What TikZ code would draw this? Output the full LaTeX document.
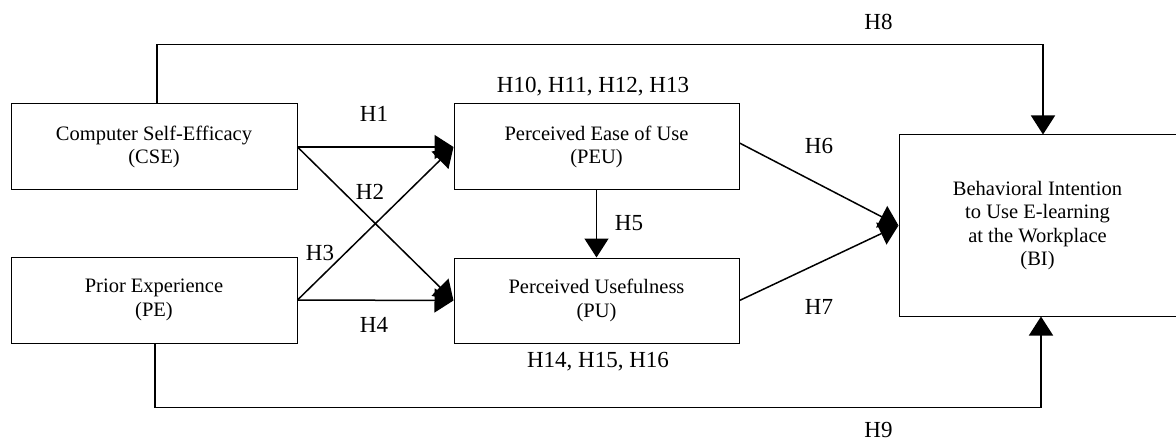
\documentclass[tikz,border=0pt]{standalone}
\usepackage{fontspec}
\setmainfont{Liberation Serif}
\usetikzlibrary{arrows.meta,calc}
\begin{document}
\begin{tikzpicture}[x=1pt,y=-1pt,
  box/.style={draw,line width=1pt,align=center,inner sep=0pt,
    font=\fontsize{20.5}{23.5}\selectfont},
  lbl/.style={inner sep=0pt,font=\fontsize{23}{26}\selectfont},
  arr/.style={line width=1.5pt,-{Triangle[length=19pt,width=24pt]}}]
\useasboundingbox (0,0) rectangle (1176,441);
\node[box,minimum width=286pt,minimum height=86pt] (CSE) at (154,147) {Computer Self-Efficacy\\(CSE)};
\node[box,minimum width=286pt,minimum height=86pt] (PE) at (154,300) {Prior Experience\\(PE)};
\node[box,minimum width=285pt,minimum height=86pt] (PEU) at (596.5,147) {Perceived Ease of Use\\(PEU)};
\node[box,minimum width=285pt,minimum height=85pt] (PU) at (596.5,300.5) {Perceived Usefulness\\(PU)};
\node[box,minimum width=277pt,minimum height=181pt] (BI) at (1037.5,225.5) {Behavioral Intention\\to Use E-learning\\at the Workplace\\(BI)};
\draw[arr] (CSE.east) -- (PEU.west);
\draw[arr] (CSE.east) -- (PU.west);
\draw[arr] (PE.east) -- (PEU.west);
\draw[arr] (PE.east) -- (PU.west);
\draw[arr] (PEU.south) -- (PU.north);
\draw[arr] ([yshift=4pt]PEU.east) -- (BI.west);
\draw[arr] (PU.east) -- (BI.west);
\draw[arr] ([xshift=3pt]CSE.north) -- ++(0,-59) -| ([xshift=5.5pt]BI.north);
\draw[arr] ([xshift=1pt]PE.south) -- ++(0,64) -| ([xshift=3.5pt]BI.south);
\node[lbl] (h1) at (374,114) {H1};
\node[lbl] (h2) at (370,192) {H2};
\node[lbl] (h3) at (320,253) {H3};
\node[lbl] (h4) at (374,325) {H4};
\node[lbl] (h5) at (629,223) {H5};
\node[lbl] (h6) at (819,146) {H6};
\node[lbl] (h7) at (819,307) {H7};
\node[lbl] (h8) at (878.5,22) {H8};
\node[lbl] (h9) at (878.5,430) {H9};
\node[lbl,text depth=0pt] (h10) at (593,84.5) {H10, H11, H12, H13};
\node[lbl,text depth=0pt] (h14) at (598,359.5) {H14, H15, H16};
\end{tikzpicture}
\end{document}
